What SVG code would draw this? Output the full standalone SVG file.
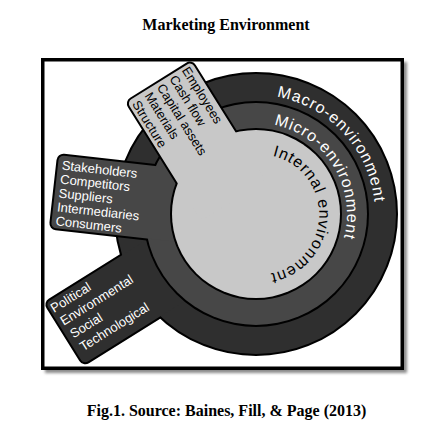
<svg xmlns="http://www.w3.org/2000/svg" xmlns:xlink="http://www.w3.org/1999/xlink" width="430" height="433" viewBox="0 0 430 433">
<defs>
<filter id="sh" x="-5%" y="-5%" width="110%" height="110%"><feGaussianBlur stdDeviation="1.6"/></filter>
<circle id="cMacro" cx="256" cy="214" r="140"/>
<rect id="aMacro" transform="translate(256,214) rotate(148)" x="0" y="-36" width="225.7" height="72" rx="5"/>
<circle id="cMicro" cx="256" cy="214" r="111"/>
<rect id="aMicro" transform="translate(256,214) rotate(186.4)" x="0" y="-36.5" width="202.3" height="73" rx="5"/>
<circle id="cInt" cx="256" cy="214" r="84"/>
<rect id="aInt" transform="translate(127,102) rotate(-32)" x="0" y="0" width="76" height="140" rx="5"/>
<path id="pMacro" d="M276.7,96.8 A119,119 0 0 1 347.2,290.5"/>
<path id="pMicro" d="M274,124.8 A91,91 0 0 1 301.5,292.8"/>
<path id="pInt" d="M272.5,155.9 A60,60 0 0 1 245.6,273.1"/>
</defs>
<style>
.cap{font-family:"Liberation Serif","Times New Roman",serif;font-weight:bold;font-size:16px;fill:#000;text-anchor:middle}
.ol{stroke:#000;stroke-width:4}
.macro{fill:#2f2f2f}
.micro{fill:#474747}
.int{fill:#c8c8c8}
.lbl{font-family:"Liberation Sans",Arial,sans-serif;font-size:13px}
.w{fill:#fff}
.k{fill:#000}
.ring{font-family:"Liberation Sans",Arial,sans-serif;font-size:16px}
</style>
<rect width="430" height="433" fill="#fff"/>
<text class="cap" x="226" y="29.5">Marketing Environment</text>
<g id="frame">
<rect x="45" y="62" width="362" height="311" fill="#8a8a8a" filter="url(#sh)"/>
<rect x="42.75" y="59.75" width="359.5" height="308.5" fill="#fff" stroke="#000" stroke-width="3.5"/>
</g>
<g id="macro-environment">
<use xlink:href="#cMacro" class="ol macro"/>
<use xlink:href="#aMacro" class="ol macro"/>
<use xlink:href="#cMacro" class="macro"/>
<use xlink:href="#aMacro" class="macro"/>
<g class="lbl w" transform="translate(45.5,303.1) rotate(-32)">
<text x="2" y="13">Political</text>
<text x="3.5" y="29">Environmental</text>
<text x="5" y="45">Social</text>
<text x="6.5" y="61">Technological</text>
</g>
<text class="ring w" letter-spacing="1"><textPath xlink:href="#pMacro">Macro-environment</textPath></text>
</g>
<g id="micro-environment">
<use xlink:href="#cMicro" class="ol micro"/>
<use xlink:href="#aMicro" class="ol micro"/>
<use xlink:href="#cMicro" class="micro"/>
<use xlink:href="#aMicro" class="micro"/>
<g class="lbl w" transform="translate(59,155.2) rotate(6.4)">
<text x="4" y="14">Stakeholders</text>
<text x="4" y="28">Competitors</text>
<text x="4" y="42">Suppliers</text>
<text x="4" y="56">Intermediaries</text>
<text x="4" y="70">Consumers</text>
</g>
<text class="ring w" letter-spacing="1"><textPath xlink:href="#pMicro">Micro-environment</textPath></text>
</g>
<g id="internal-environment">
<use xlink:href="#cInt" class="ol int"/>
<use xlink:href="#aInt" class="ol int"/>
<use xlink:href="#cInt" class="int"/>
<use xlink:href="#aInt" class="int"/>
<g class="lbl k" transform="translate(191.4,61.7) rotate(58)">
<text x="2" y="13">Employees</text>
<text x="2.6" y="28">Cash flow</text>
<text x="3.2" y="43">Capital assets</text>
<text x="3.8" y="58">Materials</text>
<text x="4.4" y="73">Structure</text>
</g>
<text class="ring k" letter-spacing="0.9"><textPath xlink:href="#pInt">Internal environment</textPath></text>
</g>
<text class="cap" x="226.5" y="416">Fig.1. Source: Baines, Fill, &amp; Page (2013)</text>
</svg>
